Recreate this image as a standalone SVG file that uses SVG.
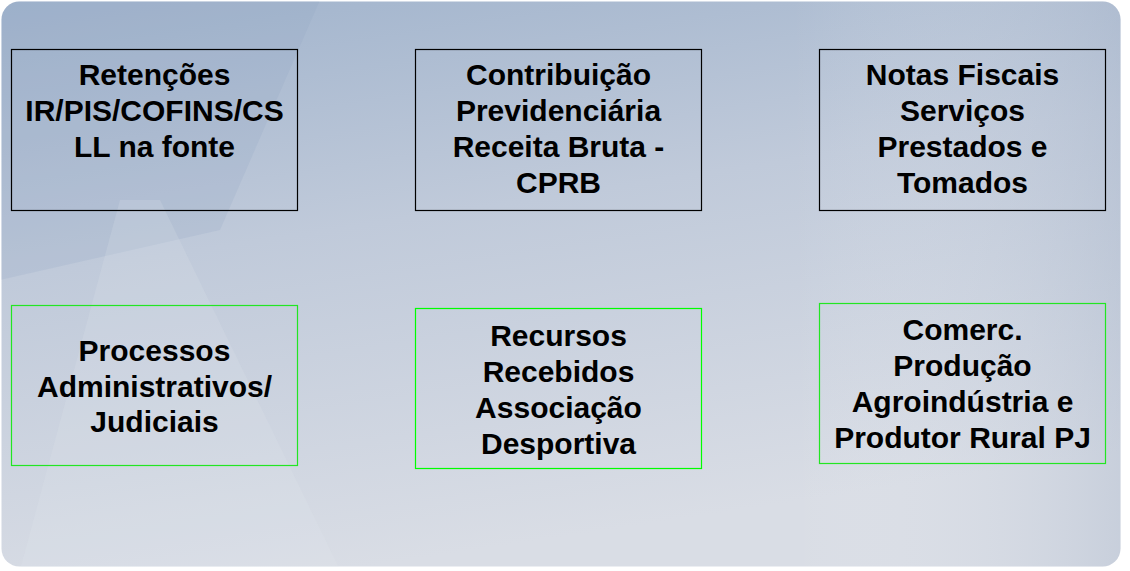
<svg xmlns="http://www.w3.org/2000/svg" width="1130" height="571" viewBox="0 0 1130 571">
<defs>
<linearGradient id="bg" x1="0" y1="0" x2="0.3" y2="1">
<stop offset="0" stop-color="#a0b3cc"/>
<stop offset="0.45" stop-color="#c0cada"/>
<stop offset="1" stop-color="#d9dde5"/>
</linearGradient>
<linearGradient id="bgR" x1="0" y1="0" x2="1" y2="0">
<stop offset="0" stop-color="#ffffff" stop-opacity="0"/>
<stop offset="0.7" stop-color="#ffffff" stop-opacity="0"/>
<stop offset="1" stop-color="#a4b2c8" stop-opacity="0.35"/>
</linearGradient>
<clipPath id="clip"><rect x="1.5" y="1.5" width="1119" height="565" rx="18"/></clipPath>
<style>
.box{fill:none;stroke-width:1.2}
.top{stroke:#000}
.bot{stroke:#22e622}
.lbl{font-family:"Liberation Sans",Arial,sans-serif;font-weight:bold;font-size:30px;fill:#000;text-anchor:middle}
</style>
</defs>
<g id="background" clip-path="url(#clip)">
<rect x="0" y="0" width="1130" height="571" fill="url(#bg)"/>
<rect x="0" y="0" width="1130" height="571" fill="url(#bgR)"/>
<polygon points="0,0 320,0 220,230 0,280" fill="#90a6c4" opacity="0.2"/>
<polygon points="20,570 120,200 160,200 340,570" fill="#e4e8ee" opacity="0.18"/>
</g>
<g id="node-retencoes">
<rect class="box top" x="11.5" y="49.5" width="286" height="161"/>
<text class="lbl"><tspan x="154.5" y="85">Retenções</tspan><tspan x="154.5" y="121">IR/PIS/COFINS/CS</tspan><tspan x="154.5" y="157">LL na fonte</tspan></text>
</g>
<g id="node-cprb">
<rect class="box top" x="415.5" y="49.5" width="286" height="161"/>
<text class="lbl"><tspan x="558.5" y="85">Contribuição</tspan><tspan x="558.5" y="121">Previdenciária</tspan><tspan x="558.5" y="157">Receita Bruta -</tspan><tspan x="558.5" y="193">CPRB</tspan></text>
</g>
<g id="node-notas">
<rect class="box top" x="819.5" y="49.5" width="286" height="161"/>
<text class="lbl"><tspan x="962.5" y="85">Notas Fiscais</tspan><tspan x="962.5" y="121">Serviços</tspan><tspan x="962.5" y="157">Prestados e</tspan><tspan x="962.5" y="193">Tomados</tspan></text>
</g>
<g id="node-processos">
<rect class="box bot" x="11.5" y="305.5" width="286" height="160"/>
<text class="lbl"><tspan x="154.5" y="361">Processos</tspan><tspan x="154.5" y="397">Administrativos/</tspan><tspan x="154.5" y="432">Judiciais</tspan></text>
</g>
<g id="node-recursos">
<rect class="box bot" x="415.5" y="308.5" width="286" height="160" style="stroke:#00ff00"/>
<text class="lbl"><tspan x="558.5" y="346">Recursos</tspan><tspan x="558.5" y="382">Recebidos</tspan><tspan x="558.5" y="418">Associação</tspan><tspan x="558.5" y="454">Desportiva</tspan></text>
</g>
<g id="node-comerc">
<rect class="box bot" x="819.5" y="303.5" width="286" height="160"/>
<text class="lbl"><tspan x="962.5" y="340">Comerc.</tspan><tspan x="962.5" y="376">Produção</tspan><tspan x="962.5" y="412">Agroindústria e</tspan><tspan x="962.5" y="448">Produtor Rural PJ</tspan></text>
</g>
<g id="connectors"/>
</svg>
